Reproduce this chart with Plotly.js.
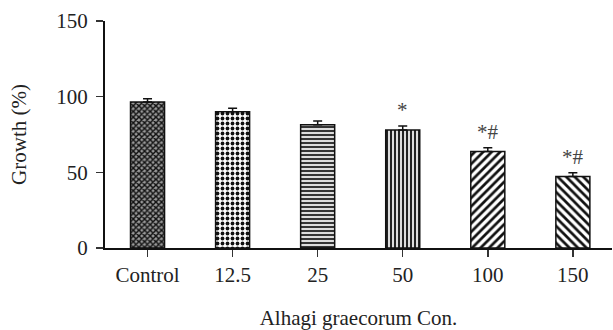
<!DOCTYPE html>
<html>
<head>
<meta charset="utf-8">
<script src="https://cdn.plot.ly/plotly-3.0.1.min.js"></script>
<style>html,body{margin:0;padding:0;background:#fff;}#chart{width:613px;height:330px;}</style>
</head>
<body>
<div id="chart"></div>
<script>
const categories = ["Control", "12.5", "25", "50", "100", "150"];
const growth = [96.5, 90, 81.5, 78, 63.7, 47.2];
const sem = [2.2, 2.3, 2.5, 2.6, 2.6, 2.6];
const significance = ["", "", "", "*", "*#", "*#"];
const yTicks = [0, 50, 100, 150];

const patterns = [
  {shape: "x", size: 4, solidity: 0.6, fgcolor: "#111", bgcolor: "#999"},
  {shape: ".", size: 5, solidity: 0.45, fgcolor: "#111", bgcolor: "#fff"},
  {shape: "-", size: 4, solidity: 0.45, fgcolor: "#222", bgcolor: "#ddd"},
  {shape: "|", size: 4, solidity: 0.5, fgcolor: "#222", bgcolor: "#ddd"},
  {shape: "/", size: 6, solidity: 0.45, fgcolor: "#111", bgcolor: "#fff"},
  {shape: "\\", size: 6, solidity: 0.45, fgcolor: "#111", bgcolor: "#fff"}
];

const traces = categories.map((c, i) => ({
  type: "bar",
  x: [c],
  y: [growth[i]],
  width: 0.4,
  error_y: {type: "data", array: [sem[i]], arrayminus: [0], symmetric: false, color: "#111", thickness: 1.5, width: 4.5},
  marker: {color: "#fff", line: {color: "#111", width: 1.5}, pattern: patterns[i]},
  showlegend: false,
  hoverinfo: "none"
}));

const annotations = categories.map((c, i) => ({
  x: i, y: growth[i] + sem[i], xref: "x", yref: "y",
  text: significance[i], showarrow: false, yanchor: "bottom", yshift: 2,
  font: {family: "Liberation Serif, serif", size: 21, color: "#444"}
})).filter(a => a.text);

const layout = {
  width: 613, height: 330,
  margin: {l: 105, r: 1, t: 21, b: 82},
  paper_bgcolor: "#fff", plot_bgcolor: "#fff",
  font: {family: "Liberation Serif, serif", size: 21, color: "#222"},
  bargap: 0.6,
  xaxis: {
    type: "category", range: [-0.5, 5.46],
    showline: true, linecolor: "#111", linewidth: 2,
    ticks: "outside", ticklen: 7, tickwidth: 1.5, tickcolor: "#333",
    showgrid: false, zeroline: false, automargin: false,
    tickfont: {size: 21, color: "#222"},
    title: {text: "Alhagi graecorum Con.", standoff: 28, font: {size: 21, color: "#222"}}
  },
  yaxis: {
    range: [0, 150], tickvals: yTicks, ticktext: yTicks.map(String),
    showline: true, linecolor: "#111", linewidth: 2,
    ticks: "outside", ticklen: 7, tickwidth: 1.5, tickcolor: "#333",
    ticklabelstandoff: 4,
    showgrid: false, zeroline: false, automargin: false,
    tickfont: {size: 21, color: "#222"},
    title: {text: "Growth (%)", standoff: 24, font: {size: 21, color: "#222"}}
  },
  annotations: annotations
};

Plotly.newPlot("chart", traces, layout, {displayModeBar: false, staticPlot: true});
</script>
</body>
</html>
